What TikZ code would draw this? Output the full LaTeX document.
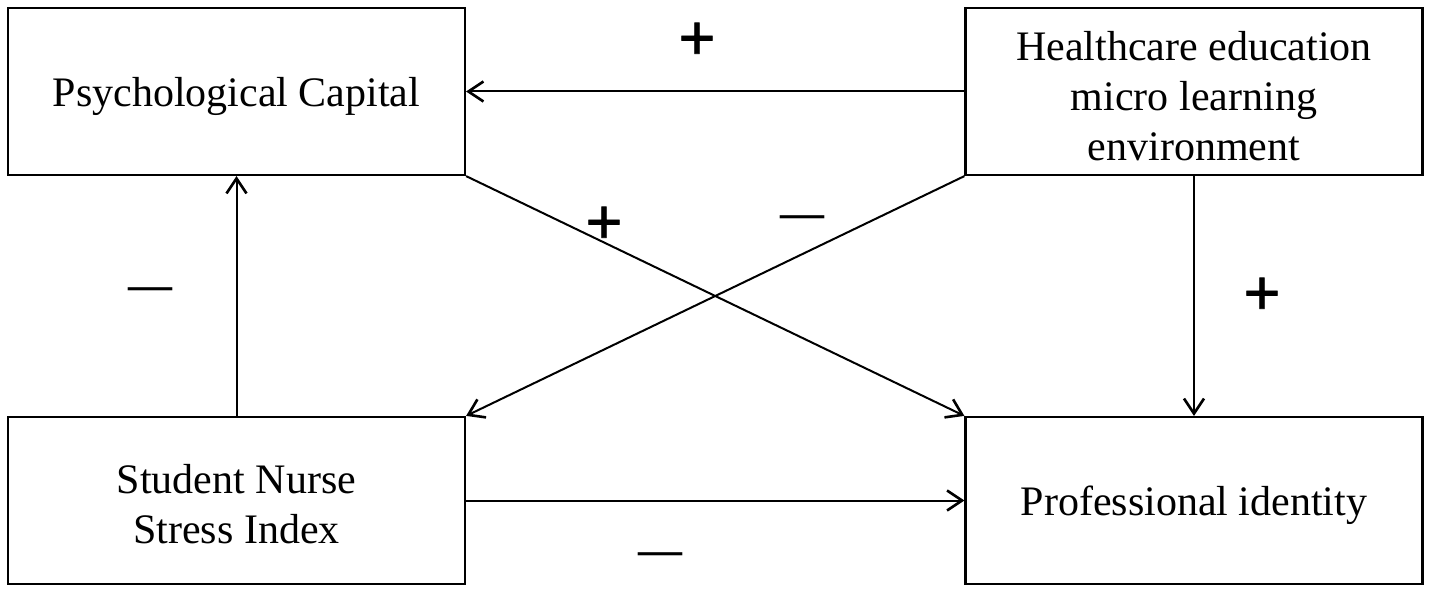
\documentclass[tikz,border=0pt]{standalone}
\usepackage{fontspec}
\setmainfont{Liberation Serif}
\newfontfamily\signfont[FakeBold=1.2,AutoFakeBold=1.2]{Liberation Sans}
\usetikzlibrary{arrows.meta}
\begin{document}
\begin{tikzpicture}[x=1pt,y=-1pt,
  box/.style={draw,line width=2.2pt,minimum width=457pt,minimum height=167pt,inner sep=0pt},
  boxtext/.style={align=center,font=\fontsize{42}{50}\selectfont,yshift=-5pt,inner sep=0pt},
  link/.style={line width=2pt,-{Straight Barb[length=15pt,width=20pt,line width=2.6pt]}},
  plus/.style={font=\signfont\fontsize{63}{63}\selectfont,inner sep=0pt},
  minus/.style={font=\bfseries\fontsize{44}{44}\selectfont,inner sep=0pt}]
\useasboundingbox (0,0) rectangle (1429,591);
\node[box,label={[boxtext]center:Psychological Capital}] (pc) at (236.5,91.5) {};
\node[box,label={[boxtext]center:{Healthcare education\\micro learning\\environment}}] (hc) at (1194,91.5) {};
\node[box,label={[boxtext,yshift=1pt]center:{Student Nurse\\Stress Index}}] (sn) at (236.5,500.5) {};
\node[box,label={[boxtext]center:Professional identity}] (pi) at (1194,500.5) {};
\draw[link] (hc.west) -- (pc.east);
\draw[link] (pc.south east) -- (pi.north west);
\draw[link] (hc.south west) -- (sn.north east);
\draw[link] (sn.north) -- (pc.south);
\draw[link] (hc.south) -- (pi.north);
\draw[link] (sn.east) -- (pi.west);
\node[plus] (p1) at (697,41) {+};
\node[plus] (p2) at (604,225) {+};
\node[plus] (p3) at (1262,296) {+};
\node[minus] (m1) at (802,222) {—};
\node[minus] (m2) at (150,294) {—};
\node[minus] (m3) at (660,559) {—};
\end{tikzpicture}
\end{document}
